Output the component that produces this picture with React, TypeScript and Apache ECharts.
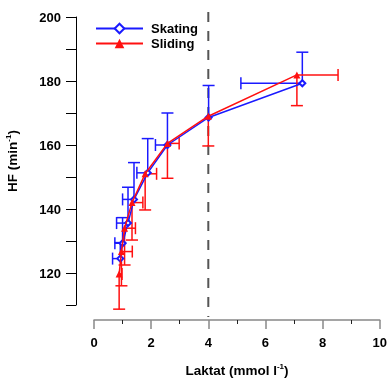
import React, { useEffect, useRef } from "react";
import * as echarts from "echarts";

const xTicks = [0, 2, 4, 6, 8, 10];
const yTicks = [120, 140, 160, 180, 200];

const skatingX = [0.92, 1.0, 1.19, 1.4, 1.88, 2.57, 4.01, 7.29];
const skatingY = [124.5, 129.3, 135.6, 143.0, 151.3, 160.0, 168.6, 179.3];
const skatingXErr = [0.27, 0.27, 0.4, 0.4, 0.38, 0.42, 0, 2.15];
const skatingYErr = [5, 8, 11.2, 11.5, 10.7, 10, 10, 9.7];

const slidingX = [0.88, 0.96, 1.07, 1.33, 1.79, 2.57, 4.0, 7.1];
const slidingY = [119.7, 126.7, 134.0, 142.0, 151.0, 160.5, 169.0, 181.9];
const slidingXErr = [0.1, 0.38, 0.38, 0.38, 0.4, 0.41, 0, 1.44];
const slidingYErr = [11, 10.7, 11.5, 11.7, 11.3, 10.9, 9.3, 9.6];

const thresholdX = 4;

const BLUE = "#1a1aff";
const RED = "#ff1010";
const FONT = "Liberation Sans, Arial, sans-serif";

function errRender(color: string, dirX: number, dirY: number) {
  return (params: any, api: any) => {
    const x = api.value(0);
    const y = api.value(1);
    const ex = api.value(2);
    const ey = api.value(3);
    const p = api.coord([x, y]);
    const cap = 6;
    const children: any[] = [];
    const st = { stroke: color, lineWidth: 1.5 };
    if (ey > 0) {
      const q = api.coord([x, y + dirY * ey]);
      children.push({ type: "line", shape: { x1: p[0], y1: p[1], x2: q[0], y2: q[1] }, style: st });
      children.push({ type: "line", shape: { x1: q[0] - cap, y1: q[1], x2: q[0] + cap, y2: q[1] }, style: st });
    }
    if (ex > 0) {
      const q = api.coord([x + dirX * ex, y]);
      children.push({ type: "line", shape: { x1: p[0], y1: p[1], x2: q[0], y2: q[1] }, style: st });
      children.push({ type: "line", shape: { x1: q[0], y1: q[1] - cap, x2: q[0], y2: q[1] + cap }, style: st });
    }
    return { type: "group", children };
  };
}

export default function App() {
  const ref = useRef<HTMLDivElement>(null);
  useEffect(() => {
    if (!ref.current) return;
    const chart = echarts.init(ref.current, null, { renderer: "svg" });
    const skating = skatingX.map((x, i) => [x, skatingY[i]]);
    const sliding = slidingX.map((x, i) => [x, slidingY[i]]);
    const skErr = skatingX.map((x, i) => [x, skatingY[i], skatingXErr[i], skatingYErr[i]]);
    const slErr = slidingX.map((x, i) => [x, slidingY[i], slidingXErr[i], slidingYErr[i]]);
    const rich = {
      a: { fontFamily: FONT, fontWeight: "bold", fontSize: 13.5, fill: "#000", lineHeight: 16 },
      s: { fontFamily: FONT, fontWeight: "bold", fontSize: 8, fill: "#000", lineHeight: 16, verticalAlign: "top", padding: [0, 0, 8, 0] },
    };
    chart.setOption({
      animation: false,
      textStyle: { fontFamily: FONT },
      grid: { left: 94, right: 7, top: 17, bottom: 74 },
      legend: {
        orient: "vertical",
        left: 90,
        top: 17,
        itemWidth: 47,
        itemHeight: 12,
        itemGap: 2,
        textStyle: { fontFamily: FONT, fontWeight: "bold", fontSize: 13, color: "#000", padding: [0, 0, 0, 3] },
        data: ["Skating", "Sliding"],
      },
      xAxis: {
        type: "value",
        min: xTicks[0],
        max: xTicks[xTicks.length - 1],
        interval: 2,
        offset: 15,
        axisLine: { show: true, onZero: false, lineStyle: { color: "#888", width: 1.5 } },
        axisTick: { show: true, inside: false, length: 9, lineStyle: { color: "#888", width: 1.5 } },
        minorTick: { show: true, splitNumber: 2, length: 4, lineStyle: { color: "#222", width: 1 } },
        splitLine: { show: false },
        axisLabel: { margin: 16, fontFamily: FONT, fontWeight: "bold", fontSize: 13, color: "#000" },
      },
      yAxis: {
        type: "value",
        min: 110,
        max: yTicks[yTicks.length - 1],
        interval: 10,
        offset: 18,
        axisLine: { show: true, onZero: false, lineStyle: { color: "#000", width: 1 } },
        axisTick: { show: true, inside: false, length: 10, lineStyle: { color: "#000", width: 1 } },
        splitLine: { show: false },
        axisLabel: {
          margin: 15,
          fontFamily: FONT,
          fontWeight: "bold",
          fontSize: 13,
          color: "#000",
          formatter: (v: number) => (yTicks.indexOf(v) >= 0 ? String(v) : ""),
        },
      },
      graphic: [
        {
          type: "text",
          x: 237,
          y: 370,
          style: {
            text: "{a|Laktat (mmol l}{s|-1}{a|)}",
            align: "center",
            verticalAlign: "middle",
            rich,
          },
        },
        {
          type: "text",
          x: 12,
          y: 161,
          rotation: Math.PI / 2,
          style: {
            text: "{a|HF (min}{s|-1}{a|)}",
            align: "center",
            verticalAlign: "middle",
            rich,
          },
        },
      ],
      series: [
        {
          type: "custom",
          name: "threshold",
          data: [[thresholdX]],
          clip: false,
          z: 1,
          renderItem: (params: any, api: any) => {
            const t = api.coord([api.value(0), 200]);
            const b = api.coord([api.value(0), 110]);
            return {
              type: "line",
              shape: { x1: t[0], y1: t[1] - 5, x2: b[0], y2: b[1] + 12 },
              style: { stroke: "#555", lineWidth: 2, lineDash: [10, 9] },
            };
          },
        },
        {
          type: "custom",
          name: "skErr",
          data: skErr,
          clip: false,
          z: 2,
          renderItem: errRender(BLUE, -1, 1),
        },
        {
          type: "custom",
          name: "slErr",
          data: slErr,
          clip: false,
          z: 2,
          renderItem: errRender(RED, 1, -1),
        },
        {
          type: "line",
          name: "Skating",
          data: skating,
          z: 3,
          symbol: "emptyDiamond",
          symbolSize: 6,
          lineStyle: { color: BLUE, width: 1.5 },
          itemStyle: { color: BLUE, borderWidth: 1.5 },
        },
        {
          type: "line",
          name: "Sliding",
          data: sliding,
          z: 4,
          symbol: "triangle",
          symbolSize: 7,
          lineStyle: { color: RED, width: 1.5 },
          itemStyle: { color: RED },
        },
      ],
    });
    return () => chart.dispose();
  }, []);
  return <div ref={ref} style={{ position: "fixed", left: 0, top: 0, width: 390, height: 379 }} />;
}
